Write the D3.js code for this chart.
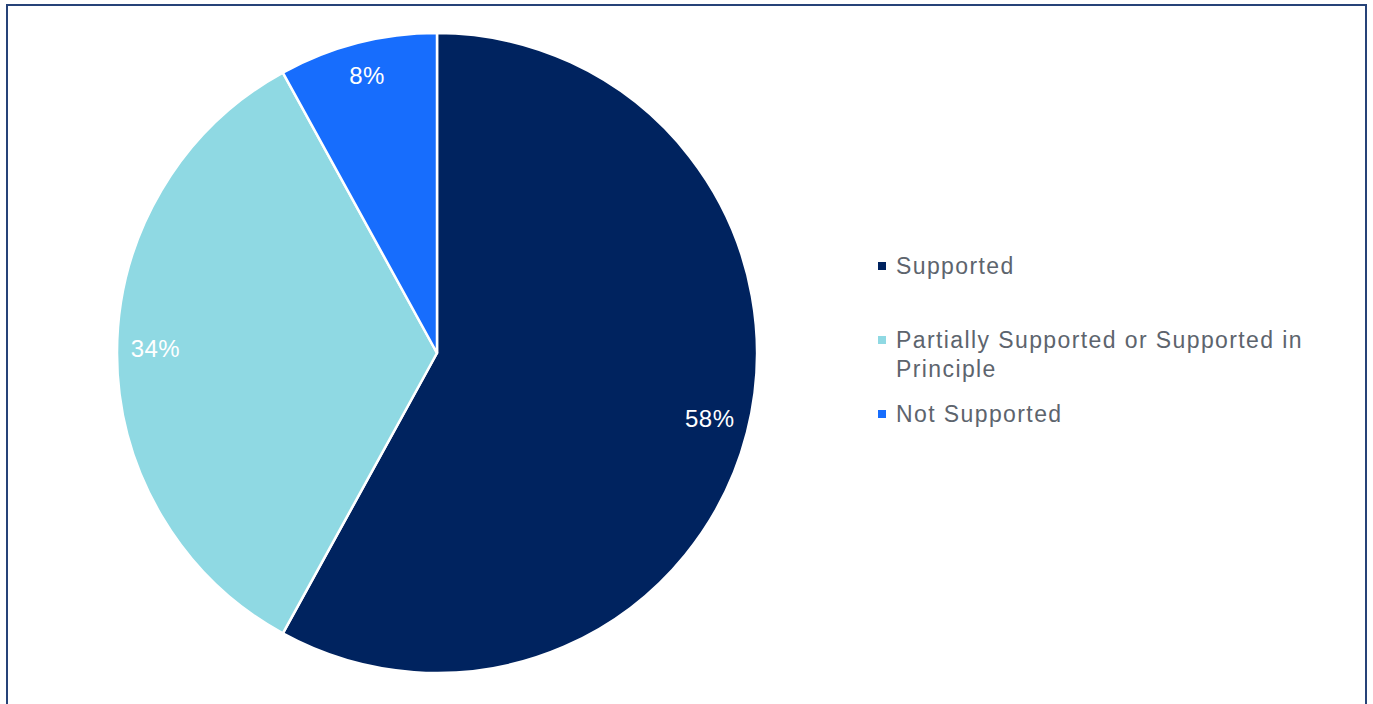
<!DOCTYPE html>
<html>
<head>
<meta charset="utf-8">
<script src="https://cdn.jsdelivr.net/npm/d3@7"></script>
<style>
  html, body { margin: 0; padding: 0; background: #ffffff; }
  svg { display: block; }
</style>
</head>
<body>
<svg id="chart" width="1373" height="704"></svg>
<script>
// Response categories and their shares (%)
const categories = ["Supported", "Partially Supported or Supported in Principle", "Not Supported"];
const values = [58, 34, 8];
const colors = ["#00235f", "#8fd9e3", "#176dfd"];
const legendLines = [["Supported"], ["Partially Supported or Supported in", "Principle"], ["Not Supported"]];

const svg = d3.select("#chart");

// Outer frame
svg.append("rect")
  .attr("x", 7).attr("y", 5)
  .attr("width", 1359).attr("height", 740)
  .attr("fill", "none")
  .attr("stroke", "#264378")
  .attr("stroke-width", 2);

const cx = 437, cy = 353, radius = 320;

const pie = d3.pie().value(d => d).sort(null);
const arcs = pie(values);
const arc = d3.arc().innerRadius(0).outerRadius(radius);
const labelArc = d3.arc().innerRadius(radius * 0.88).outerRadius(radius * 0.88);

const g = svg.append("g").attr("transform", `translate(${cx},${cy})`);

g.selectAll("path.slice")
  .data(arcs)
  .join("path")
  .attr("class", "slice")
  .attr("d", arc)
  .attr("fill", (d, i) => colors[i])
  .attr("stroke", "#ffffff")
  .attr("stroke-width", 2.5)
  .attr("stroke-linejoin", "round");

g.selectAll("text.pct")
  .data(arcs)
  .join("text")
  .attr("class", "pct")
  .attr("transform", d => {
    const [x, y] = labelArc.centroid(d);
    return `translate(${x},${y - 5})`;
  })
  .attr("text-anchor", "middle")
  .attr("dominant-baseline", "central")
  .attr("font-family", "Liberation Sans, Arial, sans-serif")
  .attr("font-size", 24)
  .attr("letter-spacing", 0.5)
  .attr("fill", "#ffffff")
  .text(d => d.data + "%");

// Legend
const legendX = 878, legendTop = [266, 340, 414];
const lg = svg.append("g");
categories.forEach((c, i) => {
  lg.append("rect")
    .attr("x", legendX).attr("y", legendTop[i] - 4)
    .attr("width", 8).attr("height", 8)
    .attr("fill", colors[i]);
  const t = lg.append("text")
    .attr("x", legendX + 18)
    .attr("y", legendTop[i])
    .attr("dominant-baseline", "central")
    .attr("font-family", "Liberation Sans, Arial, sans-serif")
    .attr("font-size", 23)
    .attr("letter-spacing", 1.4)
    .attr("fill", "#5d646d");
  legendLines[i].forEach((line, j) => {
    t.append("tspan")
      .attr("x", legendX + 18)
      .attr("dy", j === 0 ? 0 : 29)
      .text(line);
  });
});
</script>
</body>
</html>
